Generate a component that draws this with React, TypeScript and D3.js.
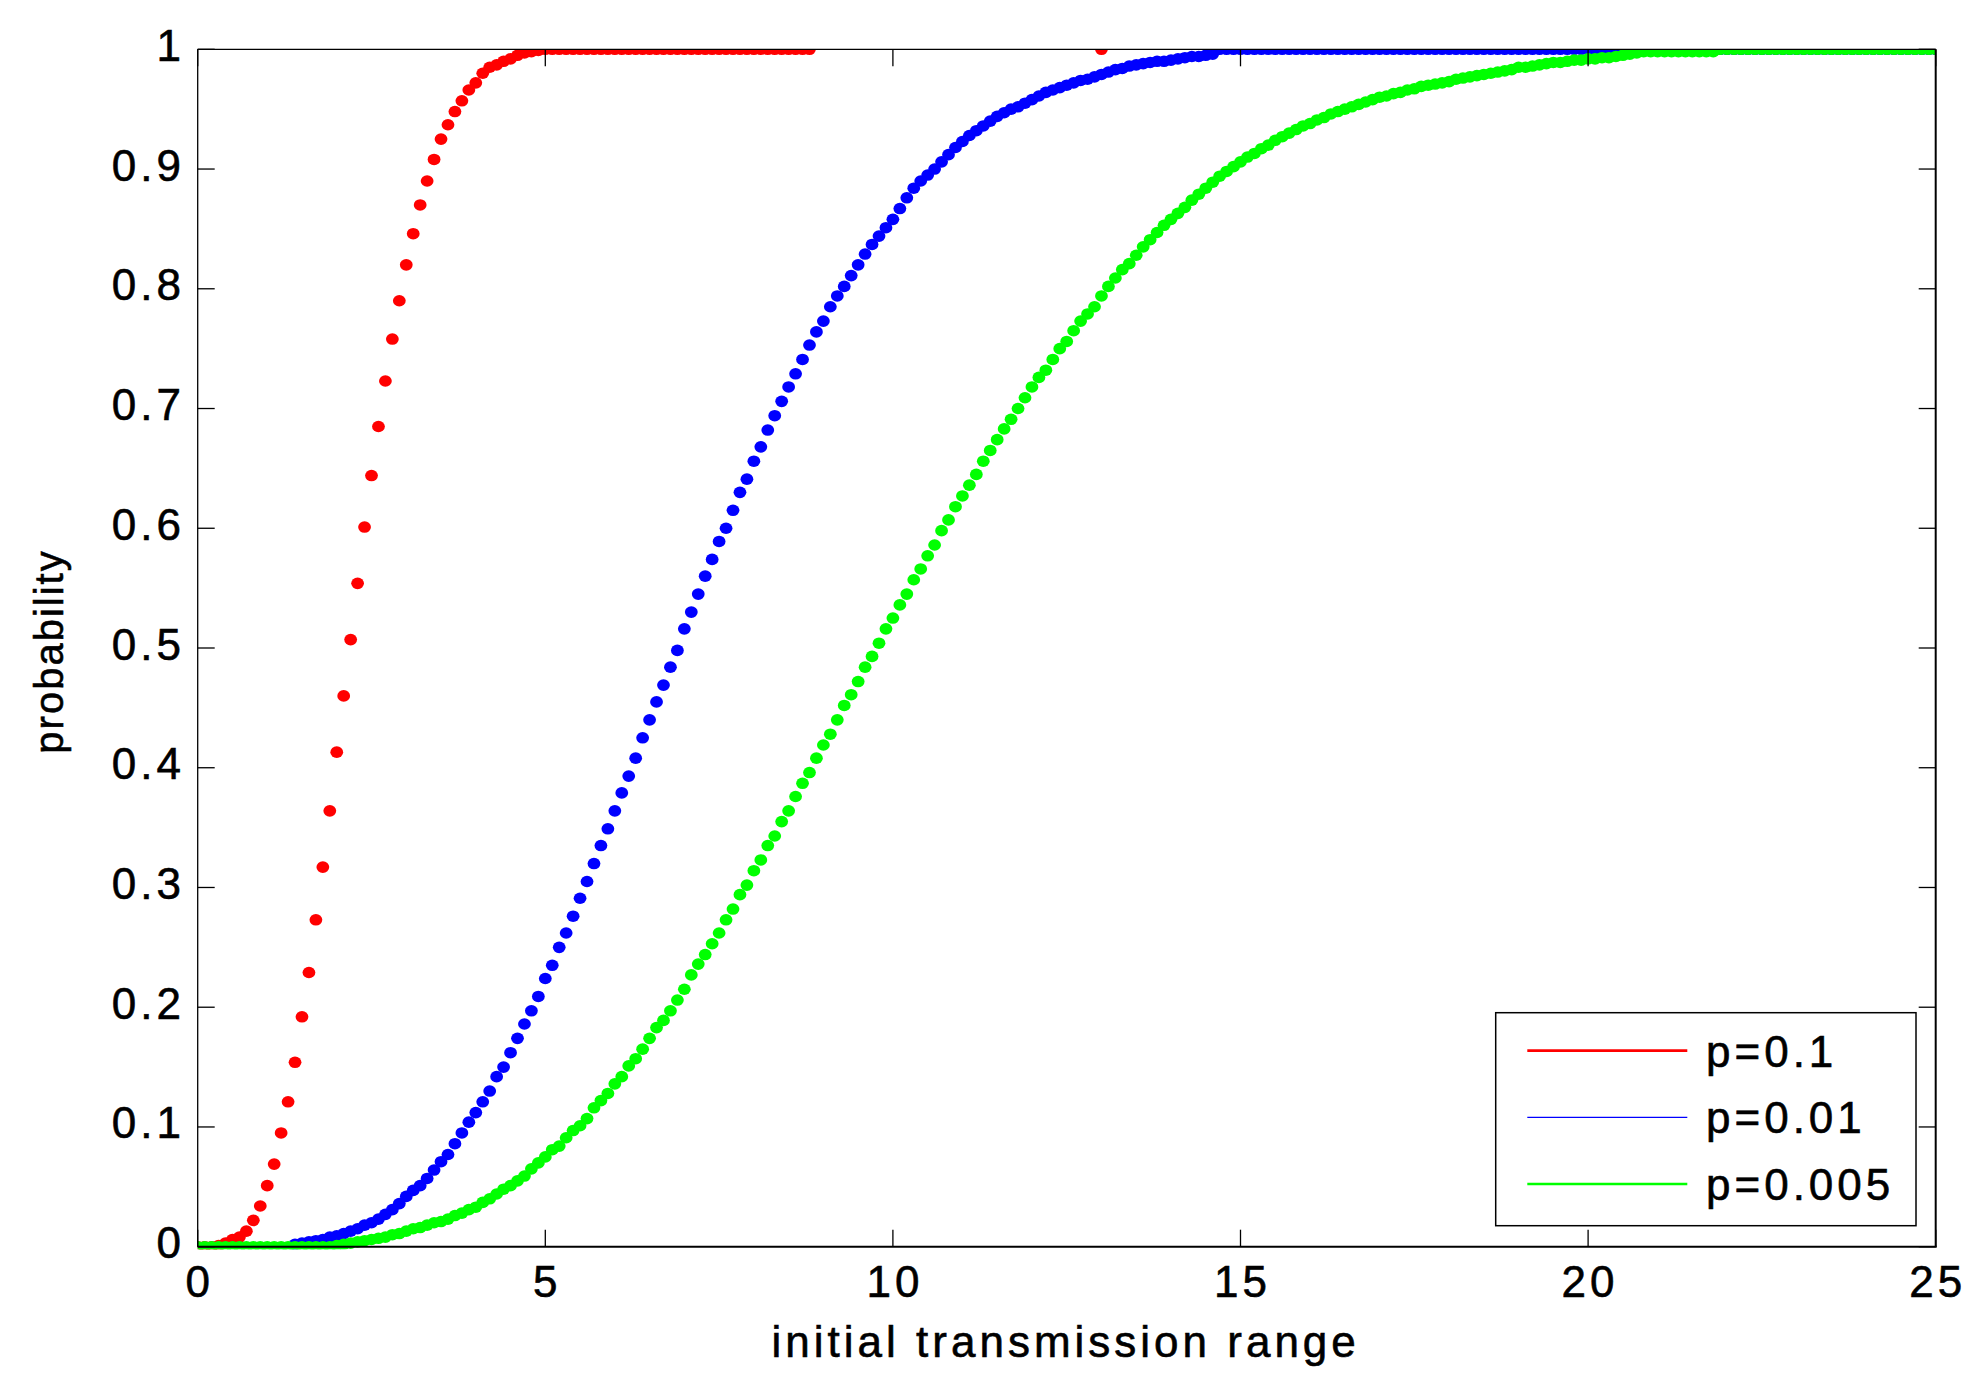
import React from 'react';
import * as d3 from 'd3';

// ---------- data ----------
const xTicks = [0, 5, 10, 15, 20, 25];
const xTickLabels = ['0', '5', '10', '15', '20', '25'];
const yTicks = [0, 0.1, 0.2, 0.3, 0.4, 0.5, 0.6, 0.7, 0.8, 0.9, 1];
const yTickLabels = ['0', '0.1', '0.2', '0.3', '0.4', '0.5', '0.6', '0.7', '0.8', '0.9', '1'];

const X_STEP = 0.1;

// p = 0.1 (x = 0.0 ... 8.8)
const redStart = 0;
const redValues = [
  0, 0, 0, 0.001, 0.003, 0.006, 0.008, 0.013, 0.022, 0.034,
  0.051, 0.069, 0.095, 0.121, 0.154, 0.192, 0.229, 0.273, 0.317, 0.364,
  0.413, 0.46, 0.507, 0.554, 0.601, 0.644, 0.685, 0.723, 0.758, 0.79,
  0.82, 0.846, 0.87, 0.89, 0.908, 0.925, 0.937, 0.948, 0.957, 0.966,
  0.972, 0.98, 0.985, 0.987, 0.99, 0.992, 0.995, 0.997, 0.998, 0.999,
  1, 1, 1, 1, 1, 1, 1, 1, 1, 1,
  1, 1, 1, 1, 1, 1, 1, 1, 1, 1,
  1, 1, 1, 1, 1, 1, 1, 1, 1, 1,
  1, 1, 1, 1, 1, 1, 1, 1, 1,
];
const redExtraX = [13.0];
const redExtraY = [1];

// p = 0.01 (x = 1.4 ... 25.0)
const blueStart = 1.4;
const blueValues = [
  0.002, 0.003, 0.004, 0.005, 0.006, 0.008, 0.009, 0.011, 0.013, 0.015,
  0.018, 0.02, 0.023, 0.027, 0.031, 0.036, 0.042, 0.047, 0.051, 0.057,
  0.064, 0.071, 0.077, 0.086, 0.095, 0.104, 0.112, 0.121, 0.13, 0.142,
  0.15, 0.162, 0.174, 0.186, 0.197, 0.209, 0.224, 0.235, 0.25, 0.262,
  0.276, 0.291, 0.305, 0.32, 0.335, 0.349, 0.364, 0.379, 0.393, 0.408,
  0.425, 0.44, 0.455, 0.469, 0.484, 0.498, 0.516, 0.53, 0.545, 0.56,
  0.574, 0.589, 0.6, 0.615, 0.63, 0.641, 0.656, 0.668, 0.682, 0.694,
  0.706, 0.718, 0.729, 0.741, 0.753, 0.764, 0.773, 0.785, 0.794, 0.802,
  0.811, 0.82, 0.829, 0.837, 0.844, 0.851, 0.858, 0.867, 0.876, 0.884,
  0.89, 0.895, 0.9, 0.906, 0.912, 0.918, 0.923, 0.928, 0.932, 0.936,
  0.94, 0.944, 0.947, 0.95, 0.952, 0.955, 0.958, 0.961, 0.964, 0.966,
  0.968, 0.97, 0.972, 0.974, 0.975, 0.977, 0.979, 0.981, 0.983, 0.984,
  0.986, 0.987, 0.988, 0.989, 0.99, 0.99, 0.991, 0.992, 0.993, 0.994,
  0.994, 0.995, 0.996,
  1, 1, 1, 1, 1, 1, 1, 1, 1, 1,
  1, 1, 1, 1, 1, 1, 1, 1, 1, 1,
  1, 1, 1, 1, 1, 1, 1, 1, 1, 1,
  1, 1, 1, 1, 1, 1, 1, 1, 1, 1,
  1, 1, 1, 1, 1, 1, 1, 1, 1, 1,
  1, 1, 1, 1, 1, 1, 1, 1, 1, 1,
  1, 1, 1, 1, 1, 1, 1, 1, 1, 1,
  1, 1, 1, 1, 1, 1, 1, 1, 1, 1,
  1, 1, 1, 1, 1, 1, 1, 1, 1, 1,
  1, 1, 1, 1, 1, 1, 1, 1, 1, 1,
  1, 1, 1, 1,
];

// p = 0.005 (x = 0.0 ... 25.0)
const greenStart = 0;
const greenValues = [
  0, 0, 0, 0, 0, 0, 0, 0, 0, 0,
  0, 0, 0, 0, 0, 0, 0, 0, 0, 0,
  0.001, 0.002, 0.003, 0.004, 0.005, 0.006, 0.007, 0.008, 0.01, 0.011,
  0.013, 0.015, 0.016, 0.018, 0.02, 0.021, 0.023, 0.026, 0.028, 0.031,
  0.033, 0.037, 0.04, 0.044, 0.048, 0.051, 0.055, 0.059, 0.065, 0.07,
  0.075, 0.081, 0.084, 0.091, 0.097, 0.101, 0.107, 0.116, 0.122, 0.128,
  0.136, 0.142, 0.151, 0.157, 0.165, 0.174, 0.183, 0.189, 0.197, 0.206,
  0.215, 0.227, 0.236, 0.244, 0.253, 0.262, 0.273, 0.282, 0.294, 0.302,
  0.314, 0.323, 0.335, 0.343, 0.355, 0.364, 0.376, 0.387, 0.396, 0.408,
  0.419, 0.428, 0.44, 0.452, 0.461, 0.472, 0.484, 0.493, 0.504, 0.516,
  0.525, 0.536, 0.545, 0.557, 0.566, 0.577, 0.586, 0.598, 0.607, 0.618,
  0.627, 0.636, 0.645, 0.656, 0.665, 0.674, 0.683, 0.691, 0.7, 0.709,
  0.718, 0.726, 0.732, 0.741, 0.75, 0.756, 0.765, 0.773, 0.779, 0.785,
  0.794,
  0.802, 0.809, 0.816, 0.821, 0.828, 0.835, 0.841, 0.847, 0.853, 0.858,
  0.863, 0.868, 0.874, 0.879, 0.884, 0.889, 0.894, 0.898, 0.902, 0.906,
  0.91, 0.913, 0.917, 0.92, 0.924, 0.927, 0.93, 0.933, 0.936, 0.938,
  0.941, 0.943, 0.946, 0.948, 0.95, 0.952, 0.954, 0.956, 0.958, 0.96,
  0.961, 0.963, 0.964, 0.966, 0.967, 0.969, 0.97, 0.971, 0.972, 0.973,
  0.975, 0.976, 0.977, 0.978, 0.979, 0.98, 0.981, 0.982, 0.983, 0.985,
  0.985, 0.986, 0.987, 0.988, 0.989, 0.989, 0.99, 0.991, 0.991, 0.992,
  0.992, 0.993, 0.993, 0.994, 0.995, 0.996, 0.997,
  0.998, 0.998, 0.998, 0.998, 0.998, 0.998, 0.998, 0.998, 0.998, 0.998, 0.998,
  1, 1, 1, 1, 1, 1, 1, 1, 1, 1,
  1, 1, 1, 1, 1, 1, 1, 1, 1, 1,
  1, 1, 1, 1, 1, 1, 1, 1, 1, 1,
  1, 1,
];

const seriesNames = ['p=0.1', 'p=0.01', 'p=0.005'];
const seriesColors = ['#ff0000', '#0000ff', '#00ff00'];
const legendLineWidths = [2.7, 1.3, 2.7];

const xLabel = 'initial transmission range';
const yLabel = 'probability';

// ---------- component ----------
type Pt = { x: number; y: number };

function toPoints(start: number, values: number[]): Pt[] {
  return values.map((v, i) => ({ x: Math.round((start + i * X_STEP) * 10) / 10, y: v }));
}

export default function App() {
  const W = 1982;
  const H = 1386;
  const left = 197.7;
  const right = 1935.7;
  const top = 49.3;
  const bottom = 1246.7;

  const x = d3.scaleLinear().domain([0, 25]).range([left, right]);
  const y = d3.scaleLinear().domain([0, 1]).range([bottom, top]);

  const red = toPoints(redStart, redValues).concat(redExtraX.map((v, i) => ({ x: v, y: redExtraY[i] })));
  const blue = toPoints(blueStart, blueValues);
  const green = toPoints(greenStart, greenValues);
  const series = [red, blue, green];

  const font = '"Liberation Sans", Arial, Helvetica, sans-serif';
  const tickLen = 17;
  const textStroke = 0.6;

  const legend = { x0: 1495.7, y0: 1012.7, x1: 1916, y1: 1225.7 };
  const legendRows = [1050.7, 1117.3, 1184];

  return (
    <svg
      width={W}
      height={H}
      viewBox={`0 0 ${W} ${H}`}
      style={{ position: 'absolute', left: 0, top: 0, display: 'block', background: '#fff' }}
    >
      <rect x={0} y={0} width={W} height={H} fill="#ffffff" />
      <defs>
        <clipPath id="plotClip">
          <rect x={left} y={top} width={right - left} height={bottom - top + 2.6} />
        </clipPath>
      </defs>

      {/* data markers */}
      <g clipPath="url(#plotClip)">
        {series.map((pts, si) => (
          <g key={si} fill={seriesColors[si]}>
            {pts.map((p, i) => (
              <ellipse key={i} cx={x(p.x)} cy={y(p.y)} rx={6.4} ry={5.8} />
            ))}
          </g>
        ))}
      </g>

      {/* axes box */}
      <g stroke="#000" fill="none">
        <line x1={left} y1={top} x2={right} y2={top} strokeWidth={1.3} />
        <line x1={left} y1={top} x2={left} y2={bottom} strokeWidth={1.3} />
        <line x1={left} y1={bottom} x2={right + 1} y2={bottom} strokeWidth={2} />
        <line x1={right} y1={top} x2={right} y2={bottom} strokeWidth={2} />
        {xTicks.map((t) => (
          <g key={'xt' + t}>
            <line x1={x(t)} y1={bottom} x2={x(t)} y2={bottom - tickLen} strokeWidth={1.3} />
            <line x1={x(t)} y1={top} x2={x(t)} y2={top + tickLen} strokeWidth={1.3} />
          </g>
        ))}
        {yTicks.map((t) => (
          <g key={'yt' + t}>
            <line x1={left} y1={y(t)} x2={left + tickLen} y2={y(t)} strokeWidth={1.3} />
            <line x1={right} y1={y(t)} x2={right - tickLen} y2={y(t)} strokeWidth={1.3} />
          </g>
        ))}
      </g>

      {/* tick labels */}
      <g fontFamily={font} fontSize={44} fill="#000" stroke="#000" strokeWidth={textStroke} letterSpacing={4}>
        {xTicks.map((t, i) => (
          <text key={'xl' + t} x={x(t) + 2} y={bottom + 50} textAnchor="middle">
            {xTickLabels[i]}
          </text>
        ))}
        {yTicks.map((t, i) => (
          <text key={'yl' + t} x={185} y={y(t) + 11.5} textAnchor="end">
            {yTickLabels[i]}
          </text>
        ))}
        <text x={(left + right) / 2 - 1} y={1356.7} textAnchor="middle">
          {xLabel}
        </text>
      </g>

      <text
        transform={`translate(63, ${651.5}) rotate(-90)`}
        fontFamily={font}
        fontSize={40}
        letterSpacing={2}
        textAnchor="middle"
        fill="#000"
        stroke="#000"
        strokeWidth={textStroke}
      >
        {yLabel}
      </text>

      {/* legend */}
      <g>
        <rect
          x={legend.x0}
          y={legend.y0}
          width={legend.x1 - legend.x0}
          height={legend.y1 - legend.y0}
          fill="#fff"
          stroke="#000"
          strokeWidth={1.5}
        />
        {seriesNames.map((name, i) => (
          <g key={name}>
            <line
              x1={1527.3}
              x2={1687.3}
              y1={legendRows[i]}
              y2={legendRows[i]}
              stroke={seriesColors[i]}
              strokeWidth={legendLineWidths[i]}
            />
            <text
              x={1706}
              y={legendRows[i] + 16}
              fontFamily={font}
              fontSize={44}
              letterSpacing={4}
              fill="#000"
              stroke="#000"
              strokeWidth={textStroke}
            >
              {name}
            </text>
          </g>
        ))}
      </g>
    </svg>
  );
}
